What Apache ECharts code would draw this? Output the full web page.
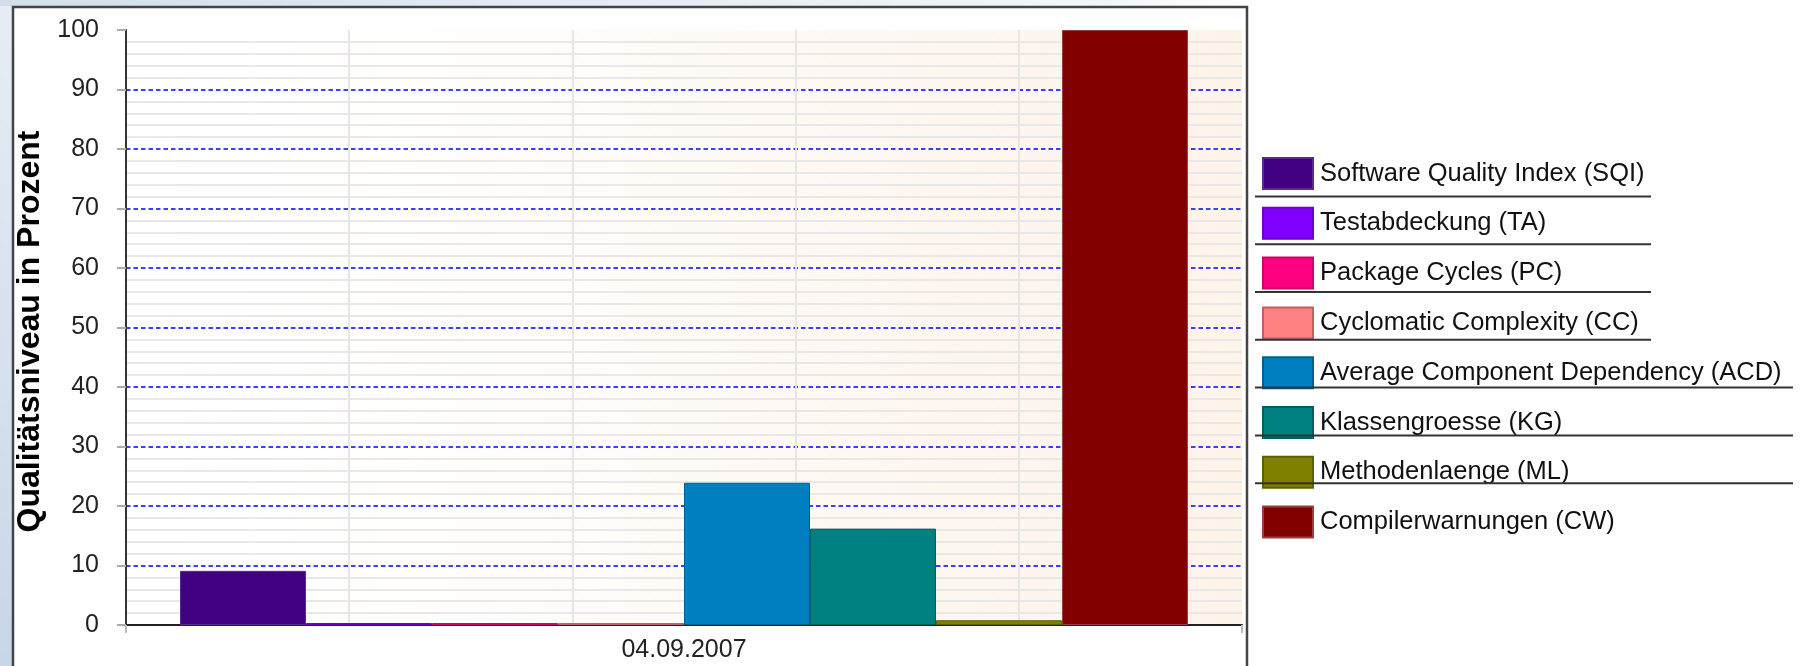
<!DOCTYPE html>
<html>
<head>
<meta charset="utf-8">
<title>Qualitätsniveau</title>
<script src="https://cdn.jsdelivr.net/npm/echarts@6/dist/echarts.min.js"></script>
<style>
    html, body { margin: 0; padding: 0; background: #fff; }
    #main { width: 1807px; height: 666px; }
</style>
</head>
<body>
<div id="main"></div>
<script>
// Daten
const categories = ['04.09.2007'];
const seriesNames = [
    'Software Quality Index (SQI)',
    'Testabdeckung (TA)',
    'Package Cycles (PC)',
    'Cyclomatic Complexity (CC)',
    'Average Component Dependency (ACD)',
    'Klassengroesse (KG)',
    'Methodenlaenge (ML)',
    'Compilerwarnungen (CW)'
];
const seriesValues = [9.1, 0, 0, 0, 23.9, 16.2, 0.8, 100];
const seriesColors = ['#400080', '#8000ff', '#ff0080', '#ff8080', '#0080c0', '#008080', '#808000', '#800000'];
const borderColors = ['#5a2a90', '#6a00d0', '#d00068', '#c06060', '#005f90', '#005f5f', '#606000', '#9a4040'];

const FONT = "'Liberation Sans', Arial, sans-serif";

// Legende
const LEG_LEFT = 1262;
const LEG_TOP = 157;
const ITEM_W = 50;
const ITEM_H = 31;
const ITEM_GAP = 16.8;

const myChart = echarts.init(document.getElementById('main'));
let option;

// Trennlinien zwischen den Legendeneintraegen
const legendLines = [];
for (let i = 0; i < seriesNames.length - 1; i++) {
    const y = LEG_TOP + (i + 1) * ITEM_H + i * ITEM_GAP + ITEM_GAP / 2;
    legendLines.push({
        type: 'line',
        z: 10,
        shape: { x1: 1255, y1: y, x2: i < 4 ? 1651 : 1793, y2: y },
        style: { stroke: '#333', lineWidth: 2 }
    });
}

const series = seriesNames.map((name, i) => ({
    name: name,
    type: 'bar',
    data: [seriesValues[i]],
    barGap: '0%',
    barCategoryGap: '9.68%',
    barMinHeight: 2, // 0-Werte als duenne Linie
    itemStyle: {
        color: seriesColors[i],
        borderColor: borderColors[i],
        borderWidth: 1
    }
}));

option = {
    backgroundColor: '#fff',
    animation: false,
    graphic: [
        // linker Rand
        {
            type: 'rect', z: -10,
            shape: { x: 0, y: 0, width: 13, height: 666 },
            style: {
                fill: new echarts.graphic.LinearGradient(0, 0, 0, 1, [
                    { offset: 0, color: '#e6edf5' },
                    { offset: 1, color: '#c9d6e8' }
                ])
            }
        },
        // oberer Rand
        {
            type: 'rect', z: -10,
            shape: { x: 0, y: 0, width: 1250, height: 6 },
            style: {
                fill: new echarts.graphic.LinearGradient(0, 0, 1, 0, [
                    { offset: 0, color: '#d3deeb' },
                    { offset: 0.9, color: '#f4f7fa' },
                    { offset: 1, color: '#ffffff' }
                ])
            }
        },
        // Rahmen
        {
            type: 'rect', z: -5,
            shape: { x: 13, y: 7, width: 1234, height: 700 },
            style: { fill: '#fff', stroke: '#444', lineWidth: 2.5 }
        }
    ].concat(legendLines),
    legend: {
        orient: 'vertical',
        left: LEG_LEFT,
        top: LEG_TOP,
        padding: 0,
        icon: 'rect',
        itemWidth: ITEM_W,
        itemHeight: ITEM_H,
        itemGap: ITEM_GAP,
        selectedMode: false,
        textStyle: { fontFamily: FONT, fontSize: 25.5, color: '#111', padding: [0, 0, 0, 2] },
        data: seriesNames
    },
    grid: {
        left: 126,
        top: 30,
        width: 1116,
        height: 595,
        show: true,
        borderWidth: 0,
        backgroundColor: new echarts.graphic.LinearGradient(0, 0, 1, 0, [
            { offset: 0, color: '#ffffff' },
            { offset: 0.25, color: '#fffefd' },
            { offset: 1, color: '#fdf3e9' }
        ])
    },
    xAxis: [
        {
            type: 'category',
            data: categories,
            axisLine: { lineStyle: { color: '#222', width: 2 } },
            axisTick: { show: true, length: 8, lineStyle: { color: '#bbb', width: 2 } },
            axisLabel: { fontFamily: FONT, fontSize: 25, color: '#222', margin: 13 },
            splitLine: { show: false }
        },
        {
            // nur fuer die senkrechten Gitterlinien
            type: 'value',
            position: 'top',
            min: 0,
            max: 5,
            interval: 1,
            axisLine: { show: false },
            axisTick: { show: false },
            axisLabel: { show: false },
            splitLine: {
                show: true,
                showMinLine: false,
                showMaxLine: false,
                lineStyle: { color: '#e6e6e6', width: 2 }
            }
        }
    ],
    yAxis: {
        type: 'value',
        min: 0,
        max: 100,
        interval: 10,
        offset: 12,
        name: 'Qualitätsniveau in Prozent',
        nameLocation: 'middle',
        nameRotate: 90,
        nameGap: 61,
        nameTextStyle: { fontFamily: FONT, fontSize: 32, fontWeight: 'bold', color: '#000', padding: [0, 8, 0, 0] },
        axisLine: { show: true, lineStyle: { color: '#333', width: 2 } },
        axisTick: { show: true, length: 9, lineStyle: { color: '#aaa', width: 2 } },
        axisLabel: { fontFamily: FONT, fontSize: 25, color: '#222', margin: 15 },
        splitLine: {
            show: true,
            showMinLine: false,
            showMaxLine: false,
            lineStyle: { color: '#0000ff', width: 1.5, type: [4.5, 3] }
        },
        minorTick: { show: false, splitNumber: 5 },
        minorSplitLine: { show: true, lineStyle: { color: '#e8e8e8', width: 2 } }
    },
    series: series
};

option && myChart.setOption(option);
</script>
</body>
</html>
